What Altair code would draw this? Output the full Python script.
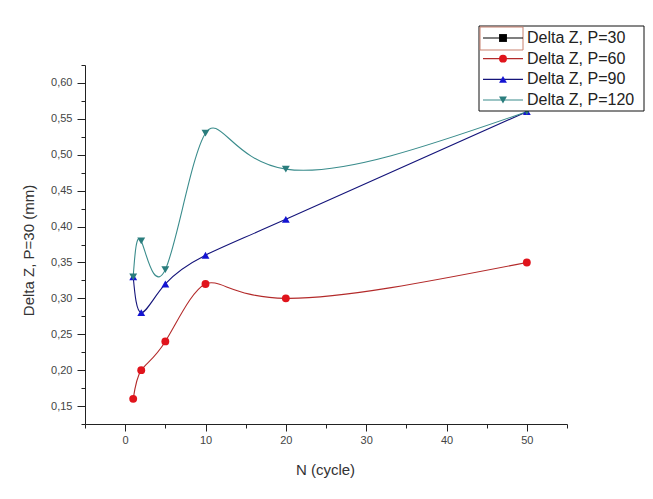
import altair as alt
import pandas as pd

# ---- data ----
N = [1, 2, 5, 10, 20, 50]
series_names = ["Delta Z, P=30", "Delta Z, P=60", "Delta Z, P=90", "Delta Z, P=120"]
dz_p30 = []  # listed in the legend, no visible points
dz_p60 = [0.16, 0.20, 0.24, 0.32, 0.30, 0.35]
dz_p90 = [0.33, 0.28, 0.32, 0.36, 0.41, 0.56]
dz_p120 = [0.33, 0.38, 0.34, 0.53, 0.48, 0.56]

x_ticks = [-5, 0, 5, 10, 15, 20, 25, 30, 35, 40, 45, 50, 55]
y_ticks = [0.125, 0.15, 0.175, 0.20, 0.225, 0.25, 0.275, 0.30, 0.325, 0.35,
           0.375, 0.40, 0.425, 0.45, 0.475, 0.50, 0.525, 0.55, 0.575, 0.60, 0.625]

line_colors = ["#000000", "#b32a2a", "#14147a", "#3a8c8c"]
marker_colors = ["#000000", "#e0141c", "#1414d2", "#2a7d7d"]
shapes = ["square", "circle", "triangle-up", "triangle-down"]

rows = []
for name, vals in zip(series_names, [dz_p30, dz_p60, dz_p90, dz_p120]):
    for n, v in zip(N, vals):
        rows.append({"series": name, "N": n, "dz": v})
df = pd.DataFrame(rows)
leg_df = pd.DataFrame({"series": series_names})
one = pd.DataFrame({"k": [0]})

FONT = "Liberation Sans"

color_scale = alt.Scale(domain=series_names, range=line_colors)
fill_scale = alt.Scale(domain=series_names, range=marker_colors)
shape_scale = alt.Scale(domain=series_names, range=shapes)

x_axis = alt.Axis(
    values=x_ticks, title="N (cycle)", grid=False,
    labelExpr="datum.value % 10 == 0 ? datum.label : ''",
    tickSize={"condition": {"test": "datum.value % 10 != 0", "value": 4}, "value": 7},
    labelOverlap=False, labelFlush=False, labelPadding=3,
    labelFont=FONT, labelFontSize=11, labelColor="#444",
    titleFont=FONT, titleFontSize=15, titleFontWeight="normal", titleColor="#333",
    titleX=240, titleY=45, titleBaseline="middle", titleAlign="center",
    domainColor="#222", tickColor="#222",
)
y_axis = alt.Axis(
    values=y_ticks, title="Delta Z, P=30 (mm)", grid=False,
    labelExpr="round(datum.value*40) % 2 == 1 ? '' : replace(format(datum.value, '.2f'), '.', ',')",
    tickSize={"condition": {"test": "round(datum.value*40) % 2 == 1", "value": 4}, "value": 8},
    labelOverlap=False, labelFlush=False, labelPadding=5,
    labelFont=FONT, labelFontSize=11, labelColor="#444",
    titleFont=FONT, titleFontSize=15, titleFontWeight="normal", titleColor="#333",
    titleX=-57, titleY=185, titleAngle=270, titleBaseline="middle", titleAlign="center",
    domainColor="#222", tickColor="#222",
)

base = alt.Chart(df).encode(
    x=alt.X("N:Q", scale=alt.Scale(domain=[-5, 55], nice=False, zero=False), axis=x_axis),
    y=alt.Y("dz:Q", scale=alt.Scale(domain=[0.125, 0.625], nice=False, zero=False), axis=y_axis),
)
lines = base.mark_line(interpolate="natural", strokeWidth=1.1).encode(
    color=alt.Color("series:N", scale=color_scale, legend=None)
)
points = base.mark_point(filled=True, size=62, opacity=1, strokeWidth=0).encode(
    fill=alt.Fill("series:N", scale=fill_scale, legend=None),
    shape=alt.Shape("series:N", scale=shape_scale, legend=None),
)
main = alt.layer(lines, points)

# ---- hand-made boxed legend (Origin style) ----
leg_y = alt.Y("series:N", scale=alt.Scale(type="point", domain=series_names, range=[-27, 35], padding=0), axis=None)
box = alt.Chart(one).mark_rect(fill="white", stroke="#111", strokeWidth=1).encode(
    x=alt.value(394), x2=alt.value(559), y=alt.value(-39), y2=alt.value(46)
)
hl = alt.Chart(one).mark_rect(fillOpacity=0, stroke="#c8806f", strokeWidth=1).encode(
    x=alt.value(395), x2=alt.value(438), y=alt.value(-38), y2=alt.value(-15)
)
leg_rules = alt.Chart(leg_df).mark_rule(strokeWidth=1.1).encode(
    x=alt.value(398), x2=alt.value(438), y=leg_y,
    color=alt.Color("series:N", scale=color_scale, legend=None),
)
leg_pts = alt.Chart(leg_df).mark_point(filled=True, size=62, opacity=1, strokeWidth=0).encode(
    x=alt.value(418), y=leg_y,
    fill=alt.Fill("series:N", scale=fill_scale, legend=None),
    shape=alt.Shape("series:N", scale=shape_scale, legend=None),
)
leg_txt = alt.Chart(leg_df).mark_text(align="left", baseline="middle", font=FONT, fontSize=16, color="#222").encode(
    x=alt.value(442), y=leg_y, text="series:N"
)
legend = alt.layer(box, hl, leg_rules, leg_pts, leg_txt)

chart = alt.layer(main, legend).resolve_scale(y="independent").properties(
    width=482, height=359,
    autosize=alt.AutoSizeParams(type="none"),
    padding={"left": 77, "top": 57, "right": 78, "bottom": 67},
    background="white",
).configure_view(stroke=None)

chart.save("out.html", embed_options={"renderer": "svg", "actions": False})
